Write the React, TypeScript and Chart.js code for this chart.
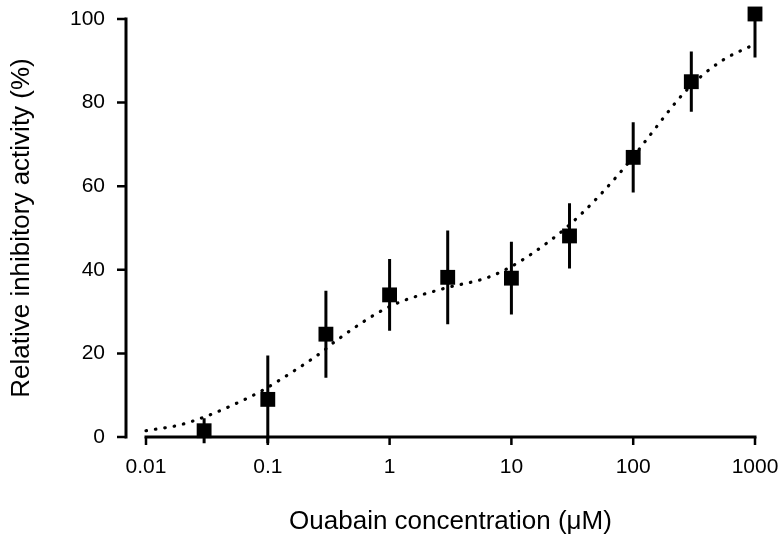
import React, { useEffect, useRef } from 'react';
import { Chart, registerables } from 'chart.js';

Chart.register(...registerables);

// Measured data (mean ± error)
const concentrations = [0.03, 0.1, 0.3, 1, 3, 10, 30, 100, 300, 1000];
const meanActivity = [1.5, 9, 24.6, 34, 38.2, 38, 48.1, 66.9, 85, 101.2];
const errorSD = [3, 10.5, 10.4, 8.6, 11.2, 8.7, 7.8, 8.4, 7.2, 10.4];

// Fitted curve (dotted)
const fitX = [0.01, 0.019, 0.0315, 0.052, 0.091, 0.16, 0.28, 0.37, 1, 2.85, 6.3, 10, 15, 28, 53, 100, 130, 275, 520, 1000];
const fitY = [1.5, 2.9, 5.0, 7.7, 11.2, 15.6, 20.4, 23.2, 31.2, 35.6, 38.1, 40.8, 44, 50, 57.8, 67, 71.3, 83, 89.8, 94];

const xTickValues = [0.01, 0.1, 1, 10, 100, 1000];
const xTickLabels = ['0.01', '0.1', '1', '10', '100', '1000'];
const yTickValues = [0, 20, 40, 60, 80, 100];

const FONT = '"Liberation Sans", Arial, Helvetica, sans-serif';

const axesPlugin = {
  id: 'detachedAxes',
  beforeDatasetsDraw(chart: any) {
    const { ctx, chartArea, scales } = chart;
    const x = scales.x;
    const y = scales.y;
    const yMax = yTickValues[yTickValues.length - 1];
    ctx.save();
    ctx.strokeStyle = '#000';
    ctx.lineWidth = 3;
    ctx.lineCap = 'butt';
    // y axis (detached to the left)
    const yx = chartArea.left - 20;
    ctx.beginPath();
    ctx.moveTo(yx, y.getPixelForValue(yMax) - 1.5);
    ctx.lineTo(yx, y.getPixelForValue(yTickValues[0]) + 1.5);
    ctx.stroke();
    ctx.lineWidth = 2.5;
    ctx.beginPath();
    for (const v of yTickValues) {
      const py = y.getPixelForValue(v);
      ctx.moveTo(yx - 9, py);
      ctx.lineTo(yx, py);
    }
    ctx.stroke();
    // x axis
    const xy = y.getPixelForValue(0);
    ctx.lineWidth = 3;
    ctx.beginPath();
    ctx.moveTo(x.getPixelForValue(xTickValues[0]) - 1.5, xy);
    ctx.lineTo(x.getPixelForValue(xTickValues[xTickValues.length - 1]) + 1.5, xy);
    ctx.stroke();
    ctx.lineWidth = 2.5;
    ctx.beginPath();
    for (const v of xTickValues) {
      const px = x.getPixelForValue(v);
      ctx.moveTo(px, xy);
      ctx.lineTo(px, xy + 8);
    }
    ctx.stroke();
    // error bars (upper end clipped to the axis maximum)
    ctx.lineWidth = 3;
    ctx.beginPath();
    concentrations.forEach((c, i) => {
      const px = x.getPixelForValue(c);
      const hi = Math.min(meanActivity[i] + errorSD[i], Math.max(yMax, meanActivity[i]));
      ctx.moveTo(px, y.getPixelForValue(hi));
      ctx.lineTo(px, y.getPixelForValue(meanActivity[i] - errorSD[i]));
    });
    ctx.stroke();
    ctx.restore();
  },
};

export default function App() {
  const canvasRef = useRef<HTMLCanvasElement | null>(null);

  useEffect(() => {
    if (!canvasRef.current) return;
    const chart = new Chart(canvasRef.current, {
      type: 'scatter',
      data: {
        datasets: [
          {
            label: 'Fit',
            data: fitX.map((c, i) => ({ x: c, y: fitY[i] })),
            showLine: true,
            borderColor: '#000',
            borderWidth: 3.2,
            borderDash: [0.5, 9],
            borderCapStyle: 'round',
            pointRadius: 0,
            cubicInterpolationMode: 'monotone',
            fill: false,
            clip: false,
          } as any,
          {
            label: 'Data',
            data: concentrations.map((c, i) => ({ x: c, y: meanActivity[i] })),
            showLine: false,
            pointStyle: 'rect',
            pointRadius: 10.5,
            pointBackgroundColor: '#000',
            pointBorderWidth: 0,
            clip: false,
          } as any,
        ],
      },
      options: {
        animation: false,
        responsive: false,
        layout: { autoPadding: false, padding: { top: 19, right: 26, left: 0, bottom: 0 } },
        plugins: {
          legend: { display: false },
          tooltip: { enabled: false },
        },
        scales: {
          x: {
            type: 'logarithmic',
            min: 0.01,
            max: 1000,
            grid: { display: false, drawTicks: false },
            border: { display: false },
            afterBuildTicks: (scale: any) => {
              scale.ticks = xTickValues.map((v) => ({ value: v }));
            },
            afterFit: (scale: any) => {
              scale.height = 98;
              scale.paddingLeft = 0;
              scale.paddingRight = 0;
            },
            ticks: {
              autoSkip: false,
              maxRotation: 0,
              padding: 18,
              color: '#000',
              font: { family: FONT, size: 21 },
              callback: (value: any) => {
                const idx = xTickValues.indexOf(Number(value));
                return idx >= 0 ? xTickLabels[idx] : '';
              },
            },
            title: {
              display: true,
              text: 'Ouabain concentration (\u03BCM)',
              color: '#000',
              font: { family: FONT, size: 26, lineHeight: 1 },
              padding: { top: 0, bottom: 0 },
            },
          },
          y: {
            type: 'linear',
            min: 0,
            max: 100,
            grid: { display: false, drawTicks: false },
            border: { display: false },
            afterBuildTicks: (scale: any) => {
              scale.ticks = yTickValues.map((v) => ({ value: v }));
            },
            afterFit: (scale: any) => {
              scale.width = 146;
              scale.paddingTop = 0;
              scale.paddingBottom = 0;
            },
            ticks: {
              padding: 41,
              color: '#000',
              font: { family: FONT, size: 21 },
            },
            title: {
              display: true,
              text: 'Relative inhibitory activity (%)',
              color: '#000',
              font: { family: FONT, size: 26, lineHeight: 1 },
              padding: { top: 9, bottom: 0 },
            },
          },
        },
      } as any,
      plugins: [axesPlugin],
    });
    return () => chart.destroy();
  }, []);

  return (
    <div style={{ position: 'absolute', left: 0, top: 0, width: 781, height: 535, background: '#fff' }}>
      <canvas ref={canvasRef} width={781} height={535} style={{ display: 'block' }} />
    </div>
  );
}
